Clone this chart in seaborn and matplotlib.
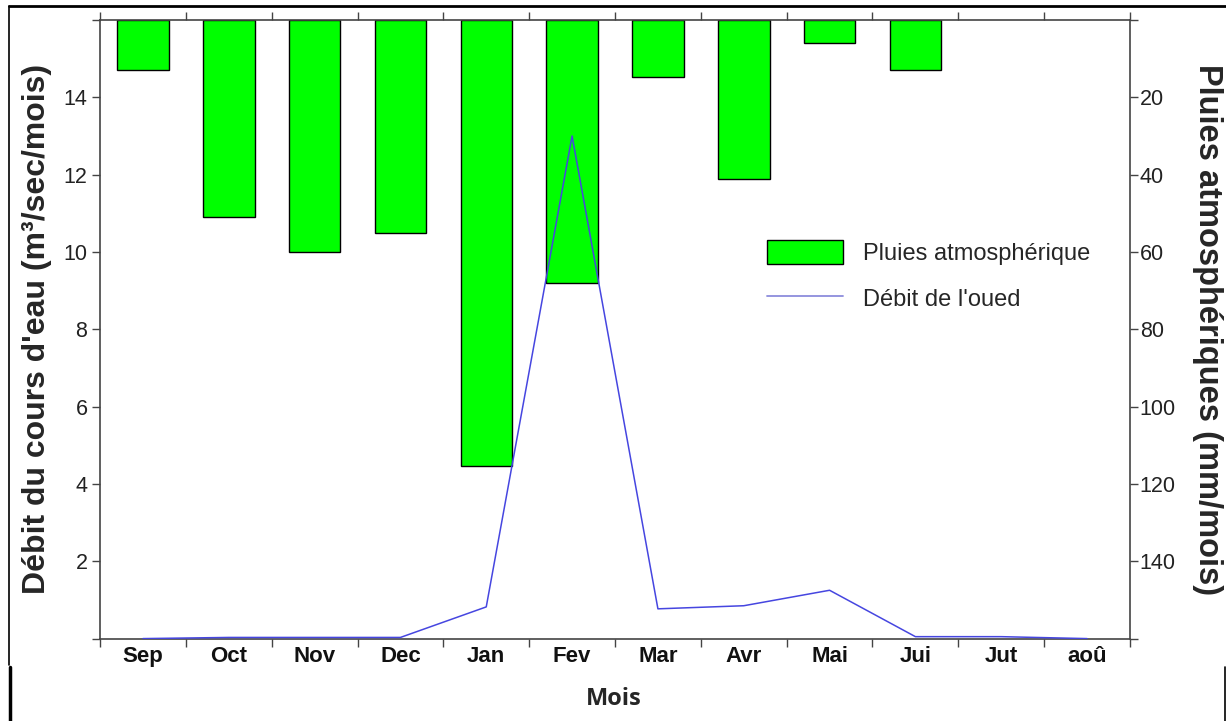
import numpy as np
import matplotlib.pyplot as plt
import seaborn as sns
from matplotlib.patches import Patch
from matplotlib.lines import Line2D

# monthly values
months = ['Sep', 'Oct', 'Nov', 'Dec', 'Jan', 'Fev', 'Mar', 'Avr', 'Mai', 'Jui', 'Jut', 'aoû']
pluie = [13, 51, 60, 55, 115.4, 68, 14.7, 41, 6, 13, 0, 0]          # mm/mois
debit = [0.0, 0.03, 0.03, 0.03, 0.82, 13.0, 0.77, 0.85, 1.25, 0.05, 0.05, 0.0]  # m3/sec/mois

left_ticks = [0, 2, 4, 6, 8, 10, 12, 14, 16]
right_ticks = [0, 20, 40, 60, 80, 100, 120, 140, 160]

sns.set_style('white')
plt.rcParams['font.family'] = ['Liberation Sans', 'DejaVu Sans']

fig = plt.figure(figsize=(12.26, 7.21), dpi=100)
ax = fig.add_axes([100 / 1226, 1 - 638.6 / 721, 1030 / 1226, 618.6 / 721])

# rain bars hang from the top (inverted right axis)
sns.barplot(x=months, y=pluie, color='#00ff00', saturation=1, width=0.6,
            edgecolor='black', linewidth=1, ax=ax)
# months without rain get no outline either
for bar in ax.patches:
    if bar.get_height() == 0:
        bar.set_visible(False)
ax.set_ylim(160, 0)
ax.set_xlim(-0.5, 11.5)

# river flow line on the left axis
ax2 = ax.twinx()
sns.lineplot(x=months, y=debit, color='#4646e0', linewidth=1.1, sort=False, ax=ax2)
ax2.set_ylim(0, 16)
ax2.set_xlim(-0.5, 11.5)

# swap sides: bars scale on the right, flow scale on the left
ax.yaxis.tick_right()
ax2.yaxis.tick_left()

ax.set_yticks(right_ticks)
ax.set_yticklabels(['' if v in (0, 160) else str(v) for v in right_ticks])
ax2.set_yticks(left_ticks)
ax2.set_yticklabels(['' if v in (0, 16) else str(v) for v in left_ticks])

spine_col = '#444444'
for s in ax.spines.values():
    s.set_color(spine_col)
    s.set_linewidth(1.2)
for s in ax2.spines.values():
    s.set_visible(False)

ax.tick_params(axis='y', which='major', direction='out', length=6, width=1,
               color=spine_col, pad=1, labelsize=15.5, labelcolor='#222222',
               right=True, left=False)
ax2.tick_params(axis='y', which='major', direction='out', length=6, width=1,
                color=spine_col, pad=3, labelsize=15.5, labelcolor='#222222',
                left=True, right=False)

ax.set_xticks(np.arange(len(months)))
ax.set_xticklabels(months, fontweight='bold')
ax.set_xticks(np.arange(-0.5, len(months), 1), minor=True)
ax.tick_params(axis='x', which='major', length=0, pad=5, labelsize=16,
               labelcolor='#111111')
ax.tick_params(axis='x', which='minor', direction='out', length=6, width=1,
               color=spine_col, top=True, bottom=True)

ax.set_xlabel('')
ax2.set_xlabel('')

ax2.set_ylabel("Débit du cours d'eau (m³/sec/mois)", fontsize=23, fontweight='bold')
ax2.yaxis.set_label_position('left')
ax2.yaxis.set_label_coords(-0.0612, 0.5)
ax2.yaxis.label.set_va('center')

ax.set_ylabel('Pluies atmosphériques (mm/mois)', fontsize=23.5, fontweight='bold',
              rotation=270)
ax.yaxis.set_label_position('right')
ax.yaxis.set_label_coords(1.0757, 0.5)
ax.yaxis.label.set_va('center')

handles = [Patch(facecolor='#00ff00', edgecolor='black', linewidth=1),
           Line2D([0], [0], color='#8c8cdc', linewidth=1.3)]
fig.legend(handles, ['Pluies atmosphérique', "Débit de l'oued"],
           loc='upper left', bbox_to_anchor=(767 / 1226, 1 - 240 / 721),
           frameon=False, fontsize=17, handlelength=3.2, handleheight=1.2,
           handletextpad=0.85, labelspacing=0.9, borderpad=0, borderaxespad=0)

# document frame around the picture and the caption cell
fig.add_artist(Line2D([9 / 1226, 1.0], [1 - 6 / 721, 1 - 6 / 721], color='black', lw=2))
fig.add_artist(Line2D([9 / 1226, 9 / 1226], [1 - 6 / 721, 1 - 665 / 721], color='black', lw=1.2))
fig.add_artist(Line2D([10 / 1226, 10 / 1226], [1 - 667 / 721, 0], color='black', lw=2.5))
fig.add_artist(Line2D([1225 / 1226, 1225 / 1226], [1 - 667 / 721, 0], color='black', lw=1.2))

fig.text(614 / 1226, 1 - 699 / 721, 'Mois', ha='center', va='center',
         fontsize=17, fontweight='bold', family=['Open Sans', 'DejaVu Sans'])

fig.savefig('out.png', dpi=100)
